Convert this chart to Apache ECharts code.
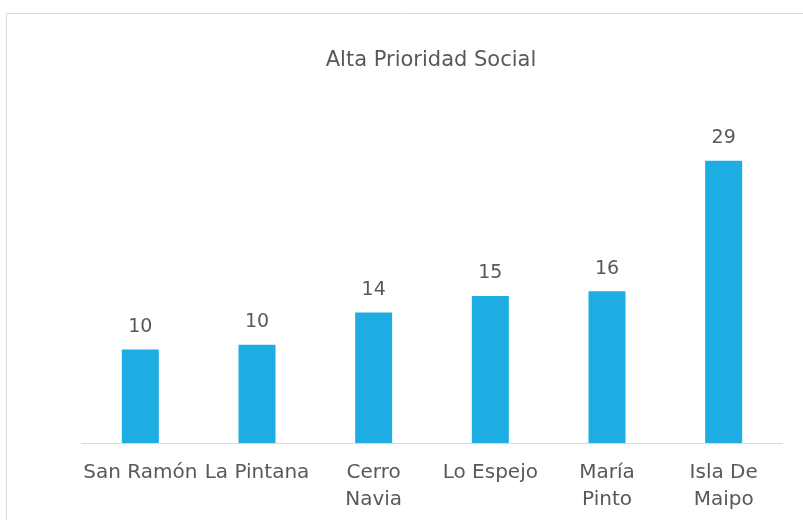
<!DOCTYPE html>
<html>
<head>
<meta charset="utf-8">
<script src="https://cdn.jsdelivr.net/npm/echarts@6/dist/echarts.min.js"></script>
<style>
  html, body { margin: 0; padding: 0; background: #fff; }
  #main { width: 803px; height: 520px; }
</style>
</head>
<body>
<div id="main"></div>
<script>
// comunas
var comunas = ['San Ramón', 'La Pintana', 'Cerro\nNavia', 'Lo Espejo', 'María\nPinto', 'Isla De\nMaipo'];
// altura de barras
var valores = [9.6, 10.1, 13.4, 15.1, 15.6, 29];
// etiquetas mostradas sobre cada barra
var etiquetas = ['10', '10', '14', '15', '16', '29'];

var fuente = '"DejaVu Sans", sans-serif';
var gris = '#595959';

var myChart = echarts.init(document.getElementById('main'));

var option = {
    animation: false,
    title: {
        text: 'Alta Prioridad Social',
        left: 426,
        top: 45,
        textAlign: 'center',
        textStyle: {
            fontFamily: fuente,
            fontSize: 21,
            fontWeight: 'normal',
            color: gris
        }
    },
    graphic: [{
        type: 'rect',
        shape: { x: 6.5, y: 13.5, width: 900, height: 600 },
        style: { fill: 'none', stroke: '#d9d9d9', lineWidth: 1 },
        silent: true
    }],
    grid: {
        left: 82,
        right: 21,
        top: 151,
        bottom: 77
    },
    xAxis: {
        type: 'category',
        data: comunas,
        axisLine: { lineStyle: { color: '#d9d9d9', width: 1 } },
        axisTick: { show: false },
        axisLabel: {
            interval: 0,
            margin: 16,
            fontFamily: fuente,
            fontSize: 20,
            lineHeight: 27,
            color: gris
        }
    },
    yAxis: {
        type: 'value',
        min: 0,
        max: 30,
        show: false,
        splitLine: { show: false }
    },
    series: [{
        type: 'bar',
        data: valores,
        barWidth: 37,
        itemStyle: { color: '#1eade2' },
        label: {
            show: true,
            position: 'top',
            distance: 13,
            fontFamily: fuente,
            fontSize: 19,
            color: gris,
            formatter: function (p) {
                return etiquetas[p.dataIndex];
            }
        }
    }]
};

myChart.setOption(option);
</script>
</body>
</html>
